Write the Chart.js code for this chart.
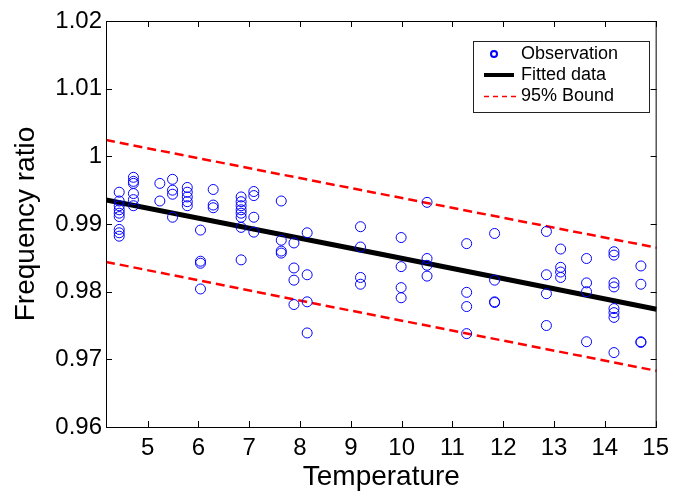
<!DOCTYPE html>
<html>
<head>
<meta charset="utf-8">
<script src="https://cdn.jsdelivr.net/npm/chart.js@4.4.1/dist/chart.umd.min.js"></script>
<style>
  html, body { margin: 0; padding: 0; background: #fff; }
  #wrap { width: 676px; height: 496px; }
</style>
</head>
<body>
<div id="wrap"><canvas id="chart" width="676" height="496"></canvas></div>
<script>
  // observations, one line per temperature column
  const obsTemp = [
    4.44, 4.44, 4.44, 4.44, 4.44, 4.44, 4.44, 4.44, 4.44,
    4.72, 4.72, 4.72, 4.72, 4.72, 4.72,
    5.24, 5.24,
    5.49, 5.49, 5.49, 5.49,
    5.78, 5.78, 5.78, 5.78, 5.78,
    6.04, 6.04, 6.04, 6.04,
    6.29, 6.29, 6.29,
    6.84, 6.84, 6.84, 6.84, 6.84, 6.84, 6.84, 6.84,
    7.09, 7.09, 7.09, 7.09,
    7.63, 7.63, 7.63, 7.63,
    7.88, 7.88, 7.88, 7.88,
    8.14, 8.14, 8.14, 8.14,
    9.19, 9.19, 9.19, 9.19,
    9.99, 9.99, 9.99, 9.99,
    10.50, 10.50, 10.50, 10.50,
    11.28, 11.28, 11.28, 11.28,
    11.83, 11.83, 11.83, 11.83,
    12.85, 12.85, 12.85, 12.85,
    13.13, 13.13, 13.13, 13.13,
    13.64, 13.64, 13.64, 13.64,
    14.18, 14.18, 14.18, 14.18, 14.18, 14.18, 14.18, 14.18,
    14.71, 14.71, 14.71, 14.71
  ];
  const obsRatio = [
    0.9947, 0.9934, 0.9927, 0.9921, 0.9916, 0.9911, 0.9892, 0.9887, 0.9882,
    0.9969, 0.9963, 0.9960, 0.9945, 0.9936, 0.9927,
    0.9960, 0.9934,
    0.9966, 0.9950, 0.9944, 0.9910,
    0.9954, 0.9947, 0.9940, 0.9933, 0.9927,
    0.9891, 0.9845, 0.9842, 0.9804,
    0.9951, 0.9928, 0.9924,
    0.9940, 0.9933, 0.9927, 0.9921, 0.9916, 0.9910, 0.9895, 0.9847,
    0.9948, 0.9942, 0.9910, 0.9888,
    0.9934, 0.9876, 0.9860, 0.9857,
    0.9872, 0.9835, 0.9817, 0.9781,
    0.9887, 0.9825, 0.9785, 0.9739,
    0.9896, 0.9866, 0.9821, 0.9811,
    0.9880, 0.9837, 0.9806, 0.9791,
    0.9932, 0.9849, 0.9839, 0.9823,
    0.9871, 0.9799, 0.9778, 0.9738,
    0.9886, 0.9817, 0.9785, 0.9784,
    0.9889, 0.9825, 0.9797, 0.9750,
    0.9863, 0.9836, 0.9829, 0.9821,
    0.9849, 0.9813, 0.9800, 0.9726,
    0.9859, 0.9854, 0.9813, 0.9807, 0.9775, 0.9769, 0.9762, 0.9710,
    0.9838, 0.9811, 0.9726, 0.9725
  ];

  // fitted line and 95% bounds
  const fitTemp = [4.18, 9.60, 15.02];
  const fitRatio = [0.99355, 0.98552, 0.97740];
  const boundTemp = [4.18, 8.12, 15.02];
  const upperRatio = [1.0024, 0.9966, 0.9865];
  const lowerRatio = [0.9844, 0.9785, 0.9683];

  // axes
  const xTicks = [5, 6, 7, 8, 9, 10, 11, 12, 13, 14, 15];
  const yTicks = [0.96, 0.97, 0.98, 0.99, 1.00, 1.01, 1.02];
  const xMin = 4.18, xMax = 15.02;
  const yMin = 0.96, yMax = 1.02;

  const FONT = "'Liberation Sans', Arial, Helvetica, sans-serif";

  function pts(xs, ys) {
    return xs.map((x, i) => ({ x: x, y: ys[i] }));
  }

  // box around the axes with inward tick marks on all four sides
  const framePlugin = {
    id: 'frame',
    afterDatasetsDraw(chart) {
      const { ctx, chartArea: a, scales } = chart;
      const tl = 6;
      ctx.save();
      ctx.strokeStyle = '#000';
      ctx.lineWidth = 1;
      ctx.strokeRect(a.left + 0.5, a.top + 0.5, a.right - a.left - 1, a.bottom - a.top);
      ctx.beginPath();
      xTicks.forEach(v => {
        const px = Math.round(scales.x.getPixelForValue(v)) + 0.5;
        ctx.moveTo(px, a.bottom); ctx.lineTo(px, a.bottom - tl);
        ctx.moveTo(px, a.top); ctx.lineTo(px, a.top + tl);
      });
      yTicks.forEach(v => {
        const py = Math.round(scales.y.getPixelForValue(v)) + 0.5;
        ctx.moveTo(a.left, py); ctx.lineTo(a.left + tl, py);
        ctx.moveTo(a.right, py); ctx.lineTo(a.right - tl, py);
      });
      ctx.stroke();
      ctx.restore();
    }
  };

  // legend box in the upper right corner
  const legendBox = {
    id: 'legendBox',
    afterDraw(chart) {
      const { ctx } = chart;
      const ds = chart.data.datasets;
      const bx = 473.5, by = 41.5, bw = 176, bh = 71;
      const rows = [54, 75, 96.5];
      const x0 = 484, x1 = 514, tx = 521;
      ctx.save();
      ctx.fillStyle = '#fff';
      ctx.fillRect(bx, by, bw, bh);
      ctx.strokeStyle = '#222';
      ctx.lineWidth = 1;
      ctx.strokeRect(bx, by, bw, bh);

      // observation marker
      ctx.beginPath();
      ctx.strokeStyle = ds[0].borderColor;
      ctx.lineWidth = 2;
      ctx.arc(494, rows[0], 3, 0, Math.PI * 2);
      ctx.stroke();

      // fitted line sample
      ctx.beginPath();
      ctx.strokeStyle = ds[1].borderColor;
      ctx.lineWidth = 4;
      ctx.moveTo(x0, rows[1]); ctx.lineTo(x1, rows[1]);
      ctx.stroke();

      // bound sample
      ctx.beginPath();
      ctx.strokeStyle = ds[2].borderColor;
      ctx.lineWidth = 1.5;
      ctx.setLineDash([5, 4]);
      ctx.moveTo(x0, rows[2]); ctx.lineTo(x1 + 2, rows[2]);
      ctx.stroke();
      ctx.setLineDash([]);

      ctx.fillStyle = '#000';
      ctx.font = '18px ' + FONT;
      ctx.textBaseline = 'middle';
      ctx.textAlign = 'left';
      [ds[0].label, ds[1].label, ds[2].label].forEach((t, i) => ctx.fillText(t, tx, rows[i]));
      ctx.restore();
    }
  };

  new Chart(document.getElementById('chart'), {
    type: 'scatter',
    data: {
      datasets: [
        {
          label: 'Observation',
          data: pts(obsTemp, obsRatio),
          borderColor: '#0000ff',
          backgroundColor: 'rgba(0,0,0,0)',
          borderWidth: 1,
          pointRadius: 5,
          pointHoverRadius: 5
        },
        {
          label: 'Fitted data',
          data: pts(fitTemp, fitRatio),
          showLine: true,
          borderColor: '#000',
          borderWidth: 5,
          pointRadius: 0
        },
        {
          label: '95% Bound',
          data: pts(boundTemp, upperRatio),
          showLine: true,
          borderColor: '#ff0000',
          borderWidth: 2.5,
          borderDash: [9, 5],
          pointRadius: 0
        },
        {
          label: '95% Bound (lower)',
          data: pts(boundTemp, lowerRatio),
          showLine: true,
          borderColor: '#ff0000',
          borderWidth: 2.5,
          borderDash: [9, 5],
          pointRadius: 0
        }
      ]
    },
    options: {
      responsive: false,
      animation: false,
      events: [],
      layout: { padding: { top: 21, right: 11, left: 0, bottom: 0 } },
      plugins: {
        legend: { display: false },
        tooltip: { enabled: false }
      },
      scales: {
        x: {
          type: 'linear',
          min: xMin,
          max: xMax,
          grid: { display: false, drawTicks: false },
          border: { display: false },
          afterBuildTicks: s => { s.ticks = xTicks.map(v => ({ value: v })); },
          afterFit: s => { s.height = 69; },
          ticks: {
            font: { family: FONT, size: 24 },
            color: '#000',
            padding: 7,
            maxRotation: 0,
            autoSkip: false
          },
          title: {
            display: true,
            text: 'Temperature',
            color: '#000',
            font: { family: FONT, size: 28, lineHeight: 1.2 },
            padding: { top: 0, bottom: 2 }
          }
        },
        y: {
          type: 'linear',
          min: yMin,
          max: yMax,
          grid: { display: false, drawTicks: false },
          border: { display: false },
          afterBuildTicks: s => { s.ticks = yTicks.map(v => ({ value: v })); },
          afterFit: s => { s.width = 106; },
          ticks: {
            font: { family: FONT, size: 24 },
            color: '#000',
            padding: 4,
            autoSkip: false,
            callback: v => String(+v.toFixed(2))
          },
          title: {
            display: true,
            text: 'Frequency ratio',
            color: '#000',
            font: { family: FONT, size: 28, lineHeight: 1.2 },
            padding: { top: 9, bottom: 0 }
          }
        }
      }
    },
    plugins: [framePlugin, legendBox]
  });
</script>
</body>
</html>
